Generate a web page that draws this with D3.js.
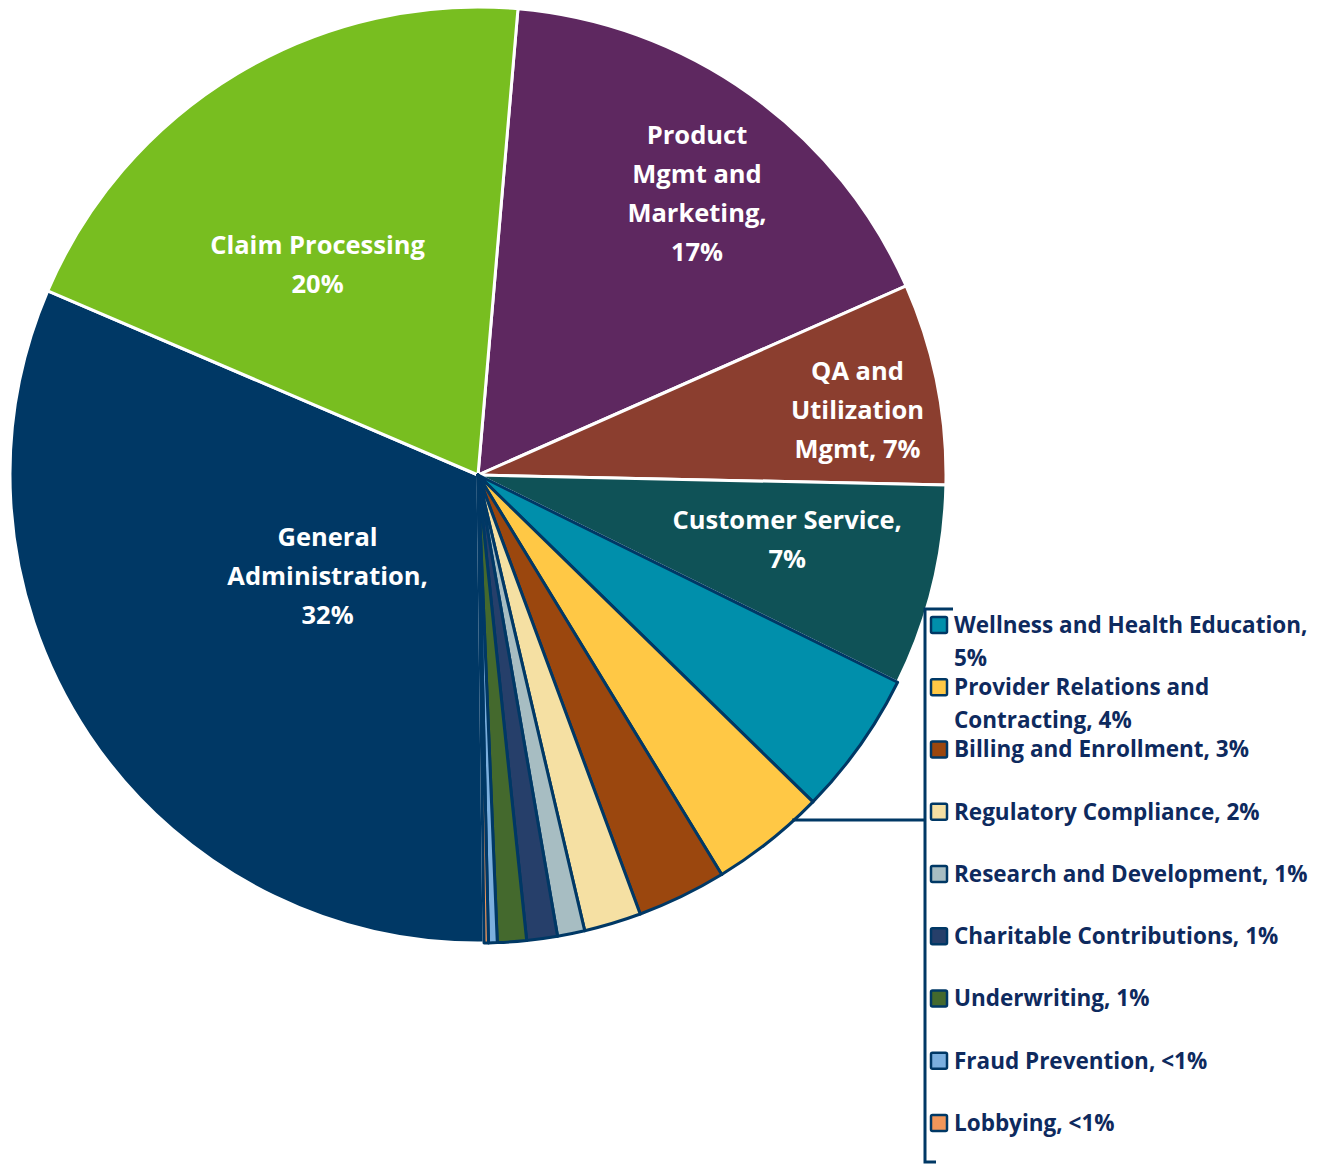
<!DOCTYPE html>
<html>
<head>
<meta charset="utf-8">
<script src="https://cdn.jsdelivr.net/npm/d3@7"></script>
<style>
  body { margin: 0; background: #fff; }
  svg { display: block; font-family: "Open Sans", sans-serif; font-weight: 700; }
</style>
</head>
<body>
<svg width="1340" height="1164"></svg>
<script>
// slice order, clockwise from just right of 12 o'clock
const categories = ['Product Mgmt and Marketing', 'QA and Utilization Mgmt', 'Customer Service',
  'Wellness and Health Education', 'Provider Relations and Contracting', 'Billing and Enrollment',
  'Regulatory Compliance', 'Research and Development', 'Charitable Contributions', 'Underwriting',
  'Fraud Prevention', 'Lobbying', 'General Administration', 'Claim Processing'];
const values = [17.0, 6.95, 6.95, 5.0, 3.97, 3.08, 1.97, 0.94, 1.06, 1.0, 0.3, 0.15, 31.6, 19.9];
const shown = ['17%', '7%', '7%', '5%', '4%', '3%', '2%', '1%', '1%', '1%', '<1%', '<1%', '32%', '20%'];
const colors = ['#5e2860', '#8b3e2f', '#0f5257', '#008fab', '#ffc845', '#9b470e',
  '#f5e0a3', '#a7bdc2', '#263f6a', '#44692d', '#7bafde', '#f0965a', '#003865', '#78be20'];

// inside labels for the big slices (line breaks as in the chart)
const insideLines = {
  'Product Mgmt and Marketing': ['Product', 'Mgmt and', 'Marketing,', '17%'],
  'QA and Utilization Mgmt': ['QA and', 'Utilization', 'Mgmt, 7%'],
  'Customer Service': ['Customer Service,', '7%'],
  'General Administration': ['General', 'Administration,', '32%'],
  'Claim Processing': ['Claim Processing', '20%'],
};
const labelR = { 'Product Mgmt and Marketing': 357, 'QA and Utilization Mgmt': 385, 'Customer Service': 316,
  'General Administration': 181, 'Claim Processing': 265 };
const labelShift = { 'Product Mgmt and Marketing': 2.3, 'QA and Utilization Mgmt': 1.6, 'Customer Service': -1.9,
  'General Administration': 0, 'Claim Processing': -6.3 };

// legend lists the small slices
const legendItems = categories.slice(3, 12);
const legendLines = [
  ['Wellness and Health Education,', '5%'],
  ['Provider Relations and', 'Contracting, 4%'],
  ['Billing and Enrollment, 3%'],
  ['Regulatory Compliance, 2%'],
  ['Research and Development, 1%'],
  ['Charitable Contributions, 1%'],
  ['Underwriting, 1%'],
  ['Fraud Prevention, <1%'],
  ['Lobbying, <1%'],
];

const svg = d3.select('svg');
const cx = 478, cy = 475, R = 468;
const navy = '#003865';
const textNavy = '#0e2a5e';

const data = categories.map((c, i) => ({ name: c, value: values[i], label: shown[i], color: colors[i], small: i >= 3 && i <= 11 }));
const start = 4.9 * Math.PI / 180;
const pie = d3.pie().sort(null).value(d => d.value).startAngle(start).endAngle(start + 2 * Math.PI);
const arcs = pie(data);
const arc = d3.arc().innerRadius(0).outerRadius(R);

const g = svg.append('g').attr('transform', `translate(${cx},${cy})`);

// big slices first with white separators, small ones on top with navy outline
const ordered = arcs.filter(a => !a.data.small).concat(arcs.filter(a => a.data.small));
g.selectAll('path')
  .data(ordered)
  .enter().append('path')
  .attr('d', arc)
  .attr('fill', d => d.data.color)
  .attr('stroke', d => d.data.small ? navy : '#fff')
  .attr('stroke-width', 3)
  .attr('stroke-linejoin', 'round');

// inside labels
const lh = 39;
arcs.filter(a => insideLines[a.data.name]).forEach(a => {
  const name = a.data.name;
  const mid = (a.startAngle + a.endAngle) / 2 + labelShift[name] * Math.PI / 180;
  const r = labelR[name];
  const x = r * Math.sin(mid), y = -r * Math.cos(mid);
  const lines = insideLines[name];
  const t = g.append('text')
    .attr('text-anchor', 'middle')
    .attr('fill', '#fff')
    .style('font-size', '25.5px');
  lines.forEach((l, i) => {
    t.append('tspan')
      .attr('x', x)
      .attr('y', y + (i - (lines.length - 1) / 2) * lh)
      .attr('dy', '0.35em')
      .text(l);
  });
});

// legend bracket and connector
const lx = 925;
const bracket = svg.append('g').attr('stroke', navy).attr('stroke-width', 3).attr('fill', 'none');
bracket.append('path').attr('d', `M${lx + 28},${609}H${lx}V${1162}H${lx + 11}`);
const cyLine = 820;
const edgeX = cx + Math.sqrt(R * R - (cyLine - cy) * (cyLine - cy));
bracket.append('line').attr('x1', edgeX - 2).attr('x2', lx).attr('y1', cyLine).attr('y2', cyLine);

const rowY = d3.scaleLinear().domain([0, legendItems.length - 1]).range([625, 1123]);
const leg = svg.append('g');
legendItems.forEach((name, i) => {
  const d = data.find(x => x.name === name);
  const y = rowY(i);
  leg.append('rect')
    .attr('x', 931).attr('y', y - 8).attr('width', 16).attr('height', 16)
    .attr('rx', 1.5)
    .attr('fill', d.color).attr('stroke', navy).attr('stroke-width', 2.5);
  const t = leg.append('text').attr('fill', textNavy).style('font-size', '22.5px');
  legendLines[i].forEach((l, j) => {
    t.append('tspan').attr('x', 954).attr('y', y + j * 33).attr('dy', '0.35em').text(l);
  });
});
</script>
</body>
</html>
